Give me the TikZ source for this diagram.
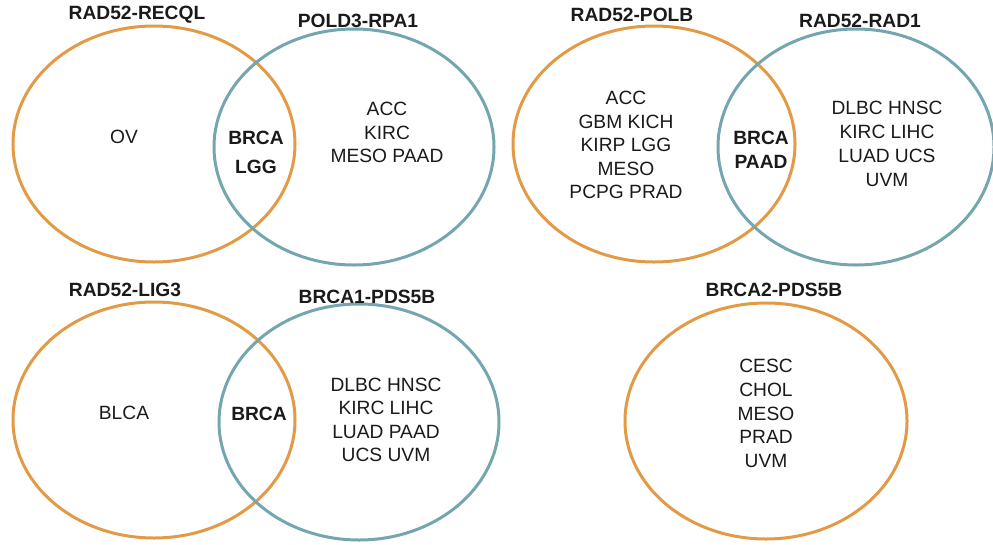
\documentclass[tikz,border=0pt]{standalone}
\usepackage{fontspec}
\setmainfont{Liberation Sans}
\usetikzlibrary{shapes.geometric}
\definecolor{vorange}{HTML}{E29A46}
\definecolor{vblue}{HTML}{74A6AF}
\definecolor{vtext}{HTML}{1A1A1A}
\tikzset{
  setA/.style={ellipse, draw=vorange, line width=3pt, inner sep=0pt, minimum width=282pt, minimum height=236pt},
  setB/.style={ellipse, draw=vblue, line width=3pt, inner sep=0pt, minimum width=280pt, minimum height=236pt},
  ttl/.style={font=\fontsize{19.2}{23.5}\selectfont\bfseries, text=vtext, inner sep=0pt},
  lbl/.style={font=\fontsize{19.2}{23.5}\selectfont, text=vtext, align=center, inner sep=0pt},
  blbl/.style={font=\fontsize{19.2}{24}\selectfont\bfseries, text=vtext, align=center, inner sep=0pt},
}
\begin{document}
\begin{tikzpicture}[x=1pt,y=-1pt]
\useasboundingbox (0,0) rectangle (993,544);
% Panel 1
\node[setA] (a1) at (154,144) {};
\node[setB] (b1) at (354,147) {};
\node[ttl] (t1a) at (137,15) {RAD52-RECQL};
\node[ttl] (t1b) at (358,21) {POLD3-RPA1};
\node[lbl] (l1a) at (124,137) {OV};
\node[blbl, font=\fontsize{19.2}{29}\selectfont\bfseries] (l1ab) at (256,152.5) {BRCA\\LGG};
\node[lbl] (l1b) at (387,132.5) {ACC\\KIRC\\MESO PAAD};
% Panel 2
\node[setA] (a2) at (654,144) {};
\node[setB, minimum width=276pt] (b2) at (856,147) {};
\node[ttl] (t2a) at (632,15) {RAD52-POLB};
\node[ttl] (t2b) at (860,21) {RAD52-RAD1};
\node[lbl] (l2a) at (626,145) {ACC\\GBM KICH\\KIRP LGG\\MESO\\PCPG PRAD};
\node[blbl] (l2ab) at (761,150) {BRCA\\PAAD};
\node[lbl, font=\fontsize{19.2}{24}\selectfont] (l2b) at (887,144) {DLBC HNSC\\KIRC LIHC\\LUAD UCS\\UVM};
% Panel 3
\node[setA] (a3) at (154,420) {};
\node[setB] (b3) at (359,422) {};
\node[ttl] (t3a) at (125,290) {RAD52-LIG3};
\node[ttl] (t3b) at (367,297) {BRCA1-PDS5B};
\node[lbl] (l3a) at (124,413) {BLCA};
\node[blbl] (l3ab) at (259,414) {BRCA};
\node[lbl] (l3b) at (386,420) {DLBC HNSC\\KIRC LIHC\\LUAD PAAD\\UCS UVM};
% Panel 4
\node[setA] (a4) at (766,421) {};
\node[ttl] (t4a) at (774,290) {BRCA2-PDS5B};
\node[lbl, font=\fontsize{19.2}{23.75}\selectfont] (l4a) at (766,413.5) {CESC\\CHOL\\MESO\\PRAD\\UVM};
\end{tikzpicture}
\end{document}
